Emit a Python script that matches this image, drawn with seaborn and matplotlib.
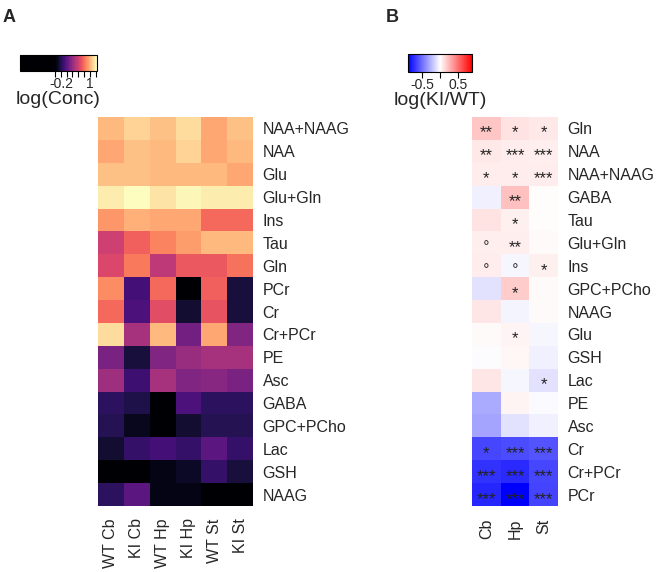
import numpy as np
import pandas as pd
import matplotlib
matplotlib.use("Agg")
import matplotlib.pyplot as plt
import seaborn as sns
from matplotlib.colors import ListedColormap

# Data

conc_rows = ["NAA+NAAG", "NAA", "Glu", "Glu+Gln", "Ins", "Tau", "Gln", "PCr", "Cr",
             "Cr+PCr", "PE", "Asc", "GABA", "GPC+PCho", "Lac", "GSH", "NAAG"]
conc_cols = ["WT Cb", "KI Cb", "WT Hp", "KI Hp", "WT St", "KI St"]
conc_vals = [
    [1.04, 1.12, 1.07, 1.16, 0.98, 1.05],
    [0.98, 1.07, 1.04, 1.12, 0.95, 1.04],
    [1.05, 1.05, 1.02, 1.02, 1.02, 0.98],
    [1.21, 1.30, 1.18, 1.25, 1.21, 1.23],
    [0.91, 1.00, 0.98, 0.95, 0.74, 0.75],
    [0.52, 0.72, 0.84, 0.93, 1.04, 1.04],
    [0.58, 0.81, 0.45, 0.68, 0.67, 0.77],
    [0.88, -0.07, 0.75, -0.55, 0.70, -0.25],
    [0.74, -0.02, 0.61, -0.28, 0.63, -0.25],
    [1.16, 0.37, 1.02, 0.14, 0.98, 0.21],
    [0.17, -0.25, 0.21, 0.28, 0.35, 0.37],
    [0.33, -0.09, 0.35, 0.21, 0.23, 0.16],
    [-0.16, -0.21, -0.55, -0.04, -0.14, -0.16],
    [-0.18, -0.35, -0.70, -0.28, -0.20, -0.20],
    [-0.28, -0.11, -0.07, -0.13, 0.03, -0.13],
    [-0.80, -0.80, -0.39, -0.32, -0.11, -0.25],
    [-0.16, 0.03, -0.37, -0.39, -0.50, -0.50],
]

ratio_rows = ["Gln", "NAA", "NAA+NAAG", "GABA", "Tau", "Glu+Gln", "Ins", "GPC+PCho", "NAAG",
              "Glu", "GSH", "Lac", "PE", "Asc", "Cr", "Cr+PCr", "PCr"]
ratio_cols = ["Cb", "Hp", "St"]
ratio_vals = [
    [0.20, 0.10, 0.08],
    [0.08, 0.07, 0.06],
    [0.07, 0.07, 0.07],
    [-0.05, 0.22, 0.01],
    [0.10, 0.05, 0.01],
    [0.06, 0.06, 0.02],
    [0.07, -0.03, 0.05],
    [-0.10, 0.18, 0.02],
    [0.09, -0.04, 0.02],
    [0.02, 0.04, -0.03],
    [-0.01, 0.03, -0.05],
    [0.09, -0.03, -0.10],
    [-0.30, 0.04, -0.02],
    [-0.32, -0.10, -0.05],
    [-0.65, -0.63, -0.60],
    [-0.72, -0.75, -0.65],
    [-0.76, -0.90, -0.66],
]
ratio_sig = [
    ["**", "*", "*"],
    ["**", "***", "***"],
    ["*", "*", "***"],
    ["", "**", ""],
    ["", "*", ""],
    ["o", "**", ""],
    ["o", "o", "*"],
    ["", "*", ""],
    ["", "", ""],
    ["", "*", ""],
    ["", "", ""],
    ["", "", "*"],
    ["", "", ""],
    ["", "", ""],
    ["*", "***", "***"],
    ["***", "***", "***"],
    ["***", "***", "***"],
]

conc_df = pd.DataFrame(conc_vals, index=conc_rows, columns=conc_cols)
ratio_df = pd.DataFrame(ratio_vals, index=ratio_rows, columns=ratio_cols)
sig = np.array(ratio_sig, dtype=object)
sig[sig == "o"] = "\u2218"

# Colormap for concentrations: black lower part, then magma
magma = plt.get_cmap("magma")
cmap_conc = ListedColormap(np.vstack([
    np.tile(magma(0.0), (45, 1)),
    magma(np.linspace(0, 1, 55)),
]))

sns.set_theme(style="white")
plt.rcParams['font.family'] = ['Liberation Sans', 'DejaVu Sans']

fig = plt.figure(figsize=(6.68, 5.72), dpi=100)
W, H = 668, 572


def box(x0, y0, x1, y1):
    return [x0 / W, 1 - y1 / H, (x1 - x0) / W, (y1 - y0) / H]


ax_a = fig.add_axes(box(98, 117, 253, 506))
cax_a = fig.add_axes(box(20, 55, 97, 71))
ax_b = fig.add_axes(box(472, 117, 558, 506))
cax_b = fig.add_axes(box(408, 54, 472, 72))

# Panel A

sns.heatmap(conc_df, ax=ax_a, cmap=cmap_conc, vmin=-1.9, vmax=1.3,
            cbar_ax=cax_a, cbar_kws={"orientation": "horizontal"})

# Panel B

sns.heatmap(ratio_df, ax=ax_b, cmap="bwr", vmin=-0.9, vmax=0.9,
            annot=sig, fmt="", annot_kws={"fontsize": 12, "color": "#222222"},
            cbar_ax=cax_b, cbar_kws={"orientation": "horizontal"})

# push asterisks down to the cell middle
for t in ax_b.texts:
    if "*" in t.get_text():
        x, y = t.get_position()
        t.set_position((x, y + 0.2))
    else:
        t.set_fontsize(10)

for ax in [ax_a, ax_b]:
    ax.yaxis.tick_right()
    ax.tick_params(axis="y", rotation=0, length=0, pad=7, labelsize=11.5)
    ax.tick_params(axis="x", rotation=90, length=0, pad=9, labelsize=11.5)
    for lab in ax.get_yticklabels():
        lab.set_ha("left")

# Colorbars

ticks_a = [-0.44, -0.2, 0.04, 0.28, 0.52, 0.76, 1.0, 1.24]
labels_a = ["", "-0.2", "", "", "", "", "1", ""]
cax_a.set_xticks(ticks_a)
cax_a.set_xticklabels(labels_a)
cax_a.set_xlabel("log(Conc)", fontsize=14, labelpad=0)

cax_b.set_xticks([-0.5, 0, 0.5])
cax_b.set_xticklabels(["-0.5", "", "0.5"])
cax_b.set_xlabel("log(KI/WT)", fontsize=14, labelpad=0)

for ax, cax in [(ax_a, cax_a), (ax_b, cax_b)]:
    cax.tick_params(axis="x", bottom=True, length=4, width=0.8, color="black",
                    direction="out", labelsize=10, pad=0)
    cax.minorticks_off()
    cbar = ax.collections[0].colorbar
    cbar.outline.set_visible(True)
    cbar.outline.set_edgecolor("black")
    cbar.outline.set_linewidth(0.8)

fig.text(3 / W, 1 - 22 / H, "A", fontsize=13, fontweight="bold")
fig.text(386 / W, 1 - 22 / H, "B", fontsize=13, fontweight="bold")

fig.savefig("out.png", dpi=100, facecolor="white")
